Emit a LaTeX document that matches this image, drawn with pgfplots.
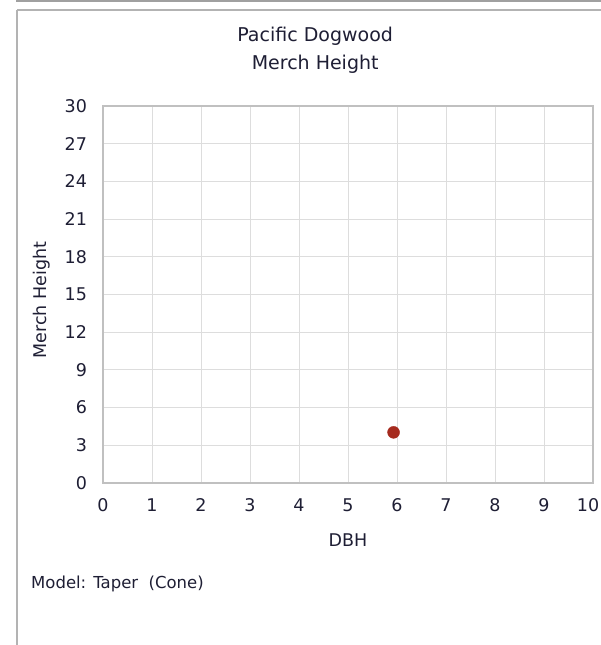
\documentclass[border=0pt]{standalone}
\usepackage{pgfplots}
\pgfplotsset{compat=1.18}
\usepackage{fontspec}
\setmainfont{DejaVu Sans}
\definecolor{txt}{HTML}{1E1E34}
\definecolor{framec}{HTML}{A0A0A0}
\definecolor{gridc}{HTML}{DDDDDD}
\definecolor{axc}{HTML}{C0C0C0}
\definecolor{ptc}{HTML}{A52A1E}
\begin{document}
\fontsize{17.5bp}{28bp}\selectfont
\begin{tikzpicture}
\path[use as bounding box] (0,0) rectangle (601bp,645bp);
% window frame
\draw[framec, line width=1.5bp] (16bp,644bp) -- (601bp,644bp);
\draw[framec!80, line width=1.2bp] (17bp,635bp) -- (601bp,635bp);
\draw[framec!80, line width=1.2bp] (17bp,0) -- (17bp,635bp);
\begin{axis}[
  at={(103bp,162bp)}, anchor=south west,
  scale only axis, width=490bp, height=377bp,
  xmin=0, xmax=10, ymin=0, ymax=30,
  xtick={0,1,...,10}, ytick={0,3,...,30},
  xticklabels={0,1,2,3,4,5,6,7,8,9,10\hspace*{10bp}},
  grid=major,
  major grid style={gridc, line width=0.9bp},
  axis line style={axc, line width=1.2bp},
  major tick length=0pt,
  /pgf/number format/assume math mode=true,
  tick label style={text=txt},
  xticklabel style={yshift=-9bp, text height=13bp, text depth=0pt},
  yticklabel style={xshift=-10bp},
  xlabel={DBH}, ylabel={Merch Height},
  xlabel style={text=txt, at={(axis description cs:0.5,-0.151)}, anchor=center},
  ylabel style={text=txt, at={(axis description cs:-0.126,0.485)}, anchor=center, rotate=0},
  title={Pacific Dogwood\\Merch Height},
  title style={text=txt, align=center, font=\fontsize{19bp}{28bp}\selectfont,
    at={(axis description cs:0.433,1.133)}, anchor=center},
]
\addplot[only marks, mark=*, mark size=6bp, color=ptc, mark options={draw=ptc, fill=ptc}]
  coordinates {(5.93,4.03)};
\end{axis}
\node[anchor=west, inner sep=0pt, text=txt, font=\fontsize{16.5bp}{20bp}\selectfont] at (31bp,61bp) {Model: Taper~~(Cone)};
\end{tikzpicture}
\end{document}
